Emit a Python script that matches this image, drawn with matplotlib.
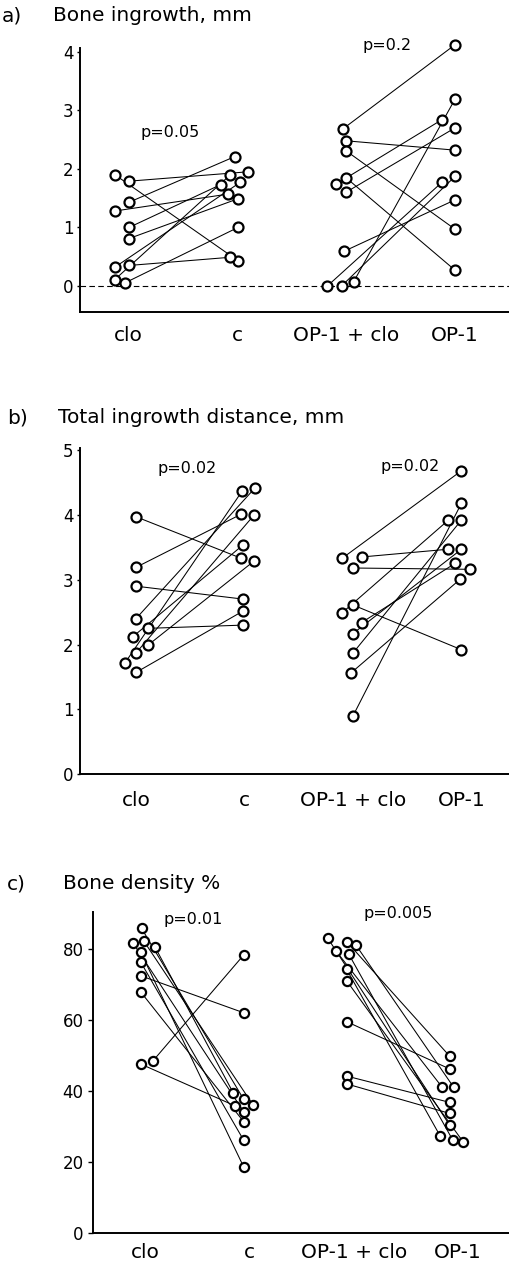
import matplotlib.pyplot as plt

plt.rcParams['font.family'] = ['DejaVu Sans']

W, H = 510, 1274  # figure size in pixels

groups = ['clo', 'c', 'OP-1 + clo', 'OP-1']

# ------------------ a) Bone ingrowth, mm ------------------
# paired values: clo[i] -> c[i], op1clo[i] -> op1[i]
a_clo = [1.90, 1.79, 1.43, 1.28, 1.00, 0.81, 0.32, 0.35, 0.11, 0.05]
a_c = [0.43, 1.95, 2.21, 1.57, 1.73, 1.49, 1.77, 0.49, 1.90, 1.00]
a_op1clo = [2.68, 2.48, 2.31, 1.85, 1.74, 1.60, 0.59, 0.00, 0.00, 0.07]
a_op1 = [4.12, 2.32, 0.97, 0.27, 2.84, 2.70, 1.47, 1.77, 1.87, 3.19]
# horizontal jitter of the circles (in group units)
a_clo_jit = [-0.12, 0.01, 0.01, -0.12, 0.01, 0.01, -0.12, 0.01, -0.12, -0.03]
a_c_jit = [0.01, 0.10, -0.02, -0.08, -0.15, 0.01, 0.03, -0.06, -0.06, 0.01]
a_op1clo_jit = [-0.03, 0, 0, 0, -0.09, 0, -0.02, -0.17, -0.04, 0.07]
a_op1_jit = [0, 0, 0, 0, -0.12, 0, 0, -0.12, 0, 0]
a_p = ['p=0.05', 'p=0.2']

# ------------------ b) Total ingrowth distance, mm ------------------
b_clo = [3.97, 3.19, 2.90, 2.25, 1.57, 2.40, 1.72, 1.87, 2.12, 1.99]
b_c = [3.33, 4.01, 2.70, 2.30, 2.52, 4.42, 4.37, 4.00, 3.54, 3.29]
b_op1clo = [3.33, 3.35, 3.18, 2.61, 2.49, 2.34, 2.17, 1.87, 1.56, 0.90]
b_op1 = [4.68, 3.47, 3.16, 1.92, 3.92, 3.25, 3.47, 3.92, 3.01, 4.18]
b_clo_jit = [0, 0, 0, 0.11, 0, 0, -0.10, 0, -0.03, 0.11]
b_c_jit = [-0.03, -0.03, -0.01, -0.01, -0.01, 0.10, -0.02, 0.09, -0.01, 0.09]
b_op1clo_jit = [-0.10, 0.08, 0, 0, -0.10, 0.08, 0, 0, -0.02, 0]
b_op1_jit = [0, -0.12, 0.08, 0, -0.12, -0.06, 0, 0, -0.01, 0]
b_p = ['p=0.02', 'p=0.02']

# ------------------ c) Bone density % ------------------
c_clo = [85.7, 82.2, 80.4, 81.5, 79.1, 76.3, 72.4, 67.9, 47.6, 48.5]
c_c = [37.7, 36.1, 39.5, 34.2, 18.7, 26.2, 62.0, 31.4, 35.8, 78.2]
c_op1clo = [82.9, 82.0, 81.0, 79.3, 78.5, 74.2, 71.0, 59.5, 44.2, 42.0]
c_op1 = [30.4, 49.8, 41.0, 41.0, 26.2, 27.3, 25.7, 46.2, 36.8, 33.7]
c_clo_jit = [-0.04, -0.02, 0.09, -0.12, -0.05, -0.05, -0.05, -0.05, -0.05, 0.07]
c_c_jit = [-0.06, 0.03, -0.16, -0.06, -0.06, -0.06, -0.06, -0.06, -0.14, -0.06]
c_op1clo_jit = [-0.25, -0.07, 0.02, -0.17, -0.05, -0.07, -0.07, -0.07, -0.07, -0.07]
c_op1_jit = [-0.08, -0.08, -0.04, -0.15, -0.05, -0.17, 0.05, -0.08, -0.08, -0.08]
c_p = ['p=0.01', 'p=0.005']


def paired(ax, g0, y0, j0, g1, y1, j1, ms):
    # connecting lines first, open circles on top
    for ya, ja, yb, jb in zip(y0, j0, y1, j1):
        ax.plot([g0 + ja, g1 + jb], [ya, yb], color='black', lw=0.75, zorder=2)
    for g, ys, js in [(g0, y0, j0), (g1, y1, j1)]:
        ax.plot([g + j for j in js], ys, 'o', ls='none', ms=ms, mfc='white',
                mec='black', mew=1.6, zorder=3, clip_on=False)


def style(ax, xlim, ylim, yticks, xpad, ylen, ypad):
    ax.set_xlim(*xlim)
    ax.set_ylim(*ylim)
    for s in ['top', 'right']:
        ax.spines[s].set_visible(False)
    for s in ['left', 'bottom']:
        ax.spines[s].set_linewidth(1.4)
    ax.set_yticks(yticks)
    ax.set_xticks(range(len(groups)))
    ax.set_xticklabels(groups, fontsize=14.5)
    ax.tick_params(axis='x', length=0, pad=xpad)
    ax.tick_params(axis='y', length=ylen, width=1.0, labelsize=12, pad=ypad)
    ax.patch.set_alpha(0)


fig = plt.figure(figsize=(W / 100, H / 100), dpi=100)

# ---- panel a ----
ax_a = fig.add_axes([80 / W, 1 - 311.7 / H, 1 - 80 / W, (311.7 - 48.3) / H])
ax_a.axhline(0, color='black', lw=0.8, ls=(0, (5, 3)), zorder=1)
paired(ax_a, 0, a_clo, a_clo_jit, 1, a_c, a_c_jit, 7.2)
paired(ax_a, 2, a_op1clo, a_op1clo_jit, 3, a_op1, a_op1_jit, 7.2)
style(ax_a, (-0.44, 3.505), (-0.44, 4.06), [0, 1, 2, 3, 4], 10, 2.5, 2)
ax_a.text(0.385, 2.63, a_p[0], ha='center', va='center', fontsize=11.5)
ax_a.text(2.376, 4.10, a_p[1], ha='center', va='center', fontsize=11.5)

# ---- panel b ----
ax_b = fig.add_axes([80 / W, 1 - 774.3 / H, 1 - 80 / W, (774.3 - 448) / H])
paired(ax_b, 0, b_clo, b_clo_jit, 1, b_c, b_c_jit, 7.2)
paired(ax_b, 2, b_op1clo, b_op1clo_jit, 3, b_op1, b_op1_jit, 7.2)
style(ax_b, (-0.516, 3.447), (0, 5.03), [0, 1, 2, 3, 4, 5], 12, 2.5, 2)
ax_b.text(0.475, 4.72, b_p[0], ha='center', va='center', fontsize=11.5)
ax_b.text(2.525, 4.75, b_p[1], ha='center', va='center', fontsize=11.5)

# ---- panel c ----
ax_c = fig.add_axes([92.7 / W, 1 - 1233.3 / H, 1 - 92.7 / W, (1233.3 - 911.7) / H])
paired(ax_c, 0, c_clo, c_clo_jit, 1, c_c, c_c_jit, 6.6)
paired(ax_c, 2, c_op1clo, c_op1clo_jit, 3, c_op1, c_op1_jit, 6.6)
style(ax_c, (-0.51, 3.5), (0, 90.4), [0, 20, 40, 60, 80], 7, 3.5, 3)
ax_c.text(0.46, 88.1, c_p[0], ha='center', va='center', fontsize=11.5)
ax_c.text(2.43, 89.8, c_p[1], ha='center', va='center', fontsize=11.5)

# ---- panel letters and titles ----
fig.text(2 / W, 1 - 22 / H, 'a)', fontsize=14.5, va='baseline')
fig.text(53 / W, 1 - 21 / H, 'Bone ingrowth, mm', fontsize=14.5, va='baseline')
fig.text(7 / W, 1 - 424 / H, 'b)', fontsize=14.5, va='baseline')
fig.text(58 / W, 1 - 423 / H, 'Total ingrowth distance, mm', fontsize=14.5, va='baseline')
fig.text(7 / W, 1 - 890 / H, 'c)', fontsize=14.5, va='baseline')
fig.text(63 / W, 1 - 889 / H, 'Bone density %', fontsize=14.5, va='baseline')

fig.savefig('out.png', dpi=100)
